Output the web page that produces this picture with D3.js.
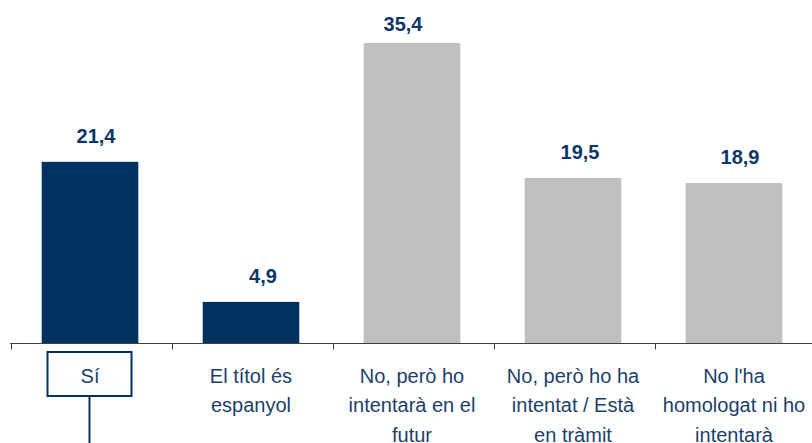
<!DOCTYPE html>
<html>
<head>
<meta charset="utf-8">
<script src="https://cdn.jsdelivr.net/npm/d3@7"></script>
<style>
	body { margin: 0; background: #fff; }
	text { font-family: "Liberation Sans", Arial, sans-serif; }
</style>
</head>
<body>
<div id="canvas"></div>
<script>
var width = 812,
	height = 443;

// categories, each label already split into its lines
var categories = ["Sí", "El títol és espanyol", "No, però ho intentarà en el futur",
	"No, però ho ha intentat / Està en tràmit", "No l'ha homologat ni ho intentarà"];
var labelLines = [
	["Sí"],
	["El títol és", "espanyol"],
	["No, però ho", "intentarà en el", "futur"],
	["No, però ho ha", "intentat / Està", "en tràmit"],
	["No l'ha", "homologat ni ho", "intentarà"]
];
var values = [21.4, 4.9, 35.4, 19.5, 18.9];
var highlighted = [true, true, false, false, false];

// value labels in the original are not quite centred on their bars
var labelNudge = [6, 12, -9, 7, 6];

var navy = "#00325F",
	grey = "#BFBFBF",
	textColor = "#1B3F6B";

var svg = d3.select("#canvas").append("svg")
	.attr("width", width)
	.attr("height", height)
	.style("background-color", "#fff")

var baseY = 343.5;

var x = d3.scaleBand()
	.domain(categories)
	.range([11, 816])
	.paddingInner(0.4)
	.paddingOuter(0.2)

var y = d3.scaleLinear()
	.domain([0, 35.4])
	.range([baseY, 43])

var step = x.step();

// bars
svg.selectAll(".bar")
	.data(categories)
	.enter()
	.append("rect")
	.attr("class", "bar")
	.attr("x", function(d){ return x(d) - 1.5; })
	.attr("y", function(d, i){ return y(values[i]); })
	.attr("width", x.bandwidth())
	.attr("height", function(d, i){ return baseY - y(values[i]); })
	.attr("fill", function(d, i){ return highlighted[i] ? navy : grey; })

// value labels
svg.selectAll(".val")
	.data(categories)
	.enter()
	.append("text")
	.attr("class", "val")
	.attr("x", function(d, i){ return x(d) + x.bandwidth()/2 - 1.5 + labelNudge[i]; })
	.attr("y", function(d, i){ return Math.max(y(values[i]) - 19, 31); })
	.attr("text-anchor", "middle")
	.attr("font-size", "20px")
	.attr("font-weight", "bold")
	.attr("fill", "#0B3768")
	.text(function(d, i){ return d3.format(".1f")(values[i]).replace(".", ","); })

// axis line and ticks at band boundaries
svg.append("line")
	.attr("x1", 10).attr("x2", width)
	.attr("y1", baseY).attr("y2", baseY)
	.attr("stroke", "#404040")
	.attr("stroke-width", 1)

svg.selectAll(".tick")
	.data(categories)
	.enter()
	.append("line")
	.attr("class", "tick")
	.attr("x1", function(d){ return Math.round(x(d) - step*0.2) + 0.5; })
	.attr("x2", function(d){ return Math.round(x(d) - step*0.2) + 0.5; })
	.attr("y1", baseY)
	.attr("y2", baseY + 6)
	.attr("stroke", "#404040")

// category labels
var lab = svg.selectAll(".cat")
	.data(categories)
	.enter()
	.append("text")
	.attr("class", "cat")
	.attr("text-anchor", "middle")
	.attr("font-size", "20px")
	.attr("fill", textColor)

lab.selectAll("tspan")
	.data(function(d, i){
		return labelLines[i].map(function(t){ return {t: t, c: d}; });
	})
	.enter()
	.append("tspan")
	.attr("x", function(d){ return x(d.c) + x.bandwidth()/2 - 1.5; })
	.attr("y", function(d, j){ return 383 + j*29.3; })
	.text(function(d){ return d.t; })

// box and pointer around the first category
var cx = x(categories[0]) + x.bandwidth()/2 - 2;
svg.append("rect")
	.attr("x", cx - 42)
	.attr("y", 352)
	.attr("width", 84)
	.attr("height", 44)
	.attr("fill", "none")
	.attr("stroke", navy)
	.attr("stroke-width", 2)

svg.append("line")
	.attr("x1", cx).attr("x2", cx)
	.attr("y1", 396).attr("y2", height)
	.attr("stroke", navy)
	.attr("stroke-width", 2)
</script>
</body>
</html>
